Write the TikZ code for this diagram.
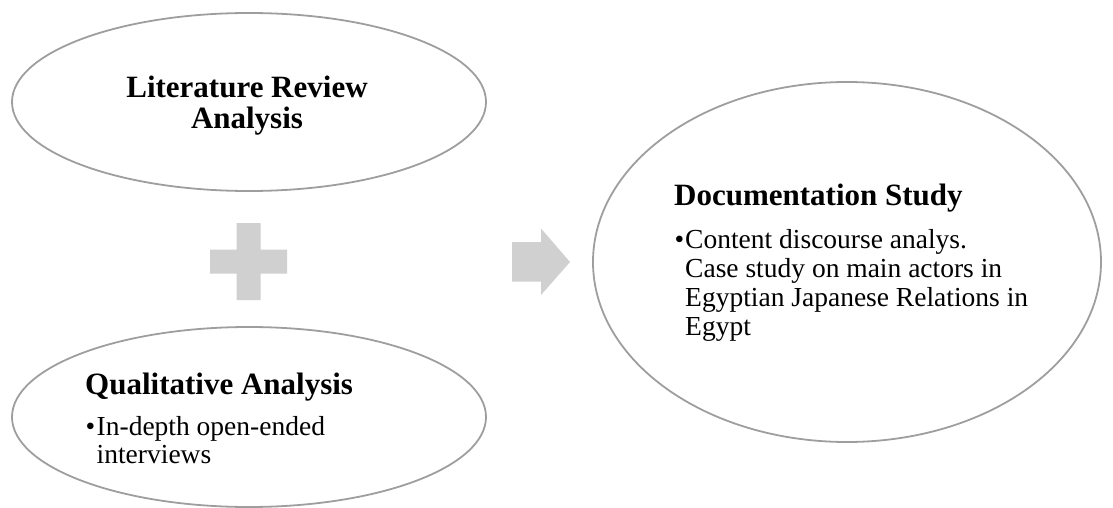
\documentclass[tikz,border=0pt]{standalone}
\usepackage{fontspec}
\setmainfont{Liberation Serif}
\usetikzlibrary{shapes.geometric}
\definecolor{bordergray}{RGB}{158,158,158}
\definecolor{shapegray}{RGB}{208,208,208}
\begin{document}
\begin{tikzpicture}[x=1pt,y=-1pt,
  bubble/.style={ellipse, draw=bordergray, line width=1.8pt, inner sep=0pt, outer sep=0pt},
  title/.style={font=\fontsize{31}{31}\selectfont\bfseries, inner sep=0pt},
  body/.style={font=\fontsize{27.5}{29}\selectfont, inner sep=0pt},
  glyph/.style={fill=shapegray, draw=none}]
\useasboundingbox (0,0) rectangle (1113,508);

% the three bubbles
\node[bubble, minimum width=474pt, minimum height=178pt] (lit)  at (249,102) {};
\node[bubble, minimum width=474pt, minimum height=180pt] (qual) at (249,417) {};
\node[bubble, minimum width=508pt, minimum height=360pt] (doc)  at (847,262) {};

% plus sign between the left bubbles
\fill[glyph] (236.5,223) -- (260.5,223) -- (260.5,249.5) -- (287,249.5)
  -- (287,273.5) -- (260.5,273.5) -- (260.5,300) -- (236.5,300)
  -- (236.5,273.5) -- (210,273.5) -- (210,249.5) -- (236.5,249.5) -- cycle;

% block arrow towards the result
\fill[glyph] (512,242) -- (541,242) -- (541,228.5) -- (570,262)
  -- (541,295) -- (541,281.5) -- (512,281.5) -- cycle;

% literature review
\node[title, anchor=base] (litA) at (247,97.5) {Literature Review};
\node[title, anchor=base] (litB) at (247,128.5) {Analysis};

% qualitative analysis
\node[title, anchor=base west] (qualT) at (85,394) {Qualitative Analysis};
\node[body, anchor=base west] (qualDot) at (85.5,435) {•};
\node[body, anchor=base west] (qual1) at (96.5,435) {In-depth open-ended};
\node[body, anchor=base west] (qual2) at (96.5,463) {interviews};

% documentation study
\node[title, anchor=base west] (docT) at (674,205) {Documentation Study};
\node[body, anchor=base west] (docDot) at (674.5,248.5) {•};
\node[body, anchor=base west] (doc1) at (685,248.5) {Content discourse analys.};
\node[body, anchor=base west] (doc2) at (685,277.5) {Case study on main actors in};
\node[body, anchor=base west] (doc3) at (685,306.5) {Egyptian Japanese Relations in};
\node[body, anchor=base west] (doc4) at (685,335.5) {Egypt};
\end{tikzpicture}
\end{document}
